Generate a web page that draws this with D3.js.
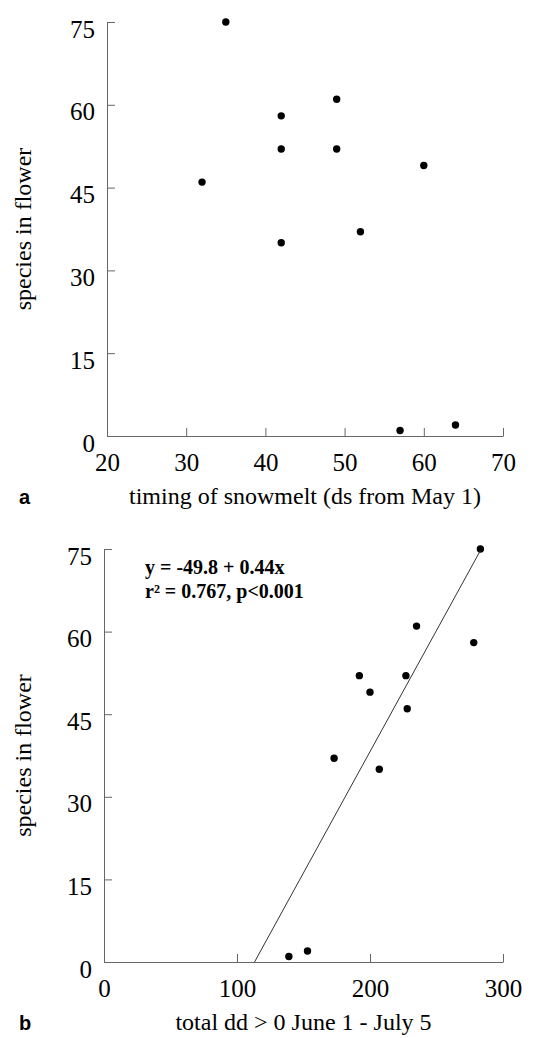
<!DOCTYPE html>
<html>
<head>
<meta charset="utf-8">
<script src="https://cdnjs.cloudflare.com/ajax/libs/d3/7.8.5/d3.min.js"></script>
<style>
  body { margin: 0; background: #fff; }
  svg { display: block; }
  .tick text { font-family: "Liberation Serif", "Times New Roman", serif; font-size: 25px; fill: #000; }
  .domain, .tick line { stroke: #666; stroke-width: 1; }
</style>
</head>
<body>
<svg></svg>
<script>
// panel a: timing of snowmelt vs species in flower
var snowmeltDays = [35, 32, 42, 42, 49, 49, 60, 42, 52, 57, 64];
var speciesA     = [75, 46, 58, 52, 61, 52, 49, 35, 37, 1, 2];

// panel b: degree days vs species in flower
var degreeDays = [283, 235, 278, 192, 200, 227, 228, 173, 207, 139, 153];
var speciesB   = [75, 61, 58, 52, 49, 52, 46, 37, 35, 1, 2];

var xTicksA = [20, 30, 40, 50, 60, 70];
var xTicksB = [0, 100, 200, 300];
var yTicks  = [0, 15, 30, 45, 60, 75];

// fitted line for panel b
var fitIntercept = -49.8;
var fitSlope = 0.44;

var svgWidth = 545;
var svgHeight = 1038;
var svg = d3.select("svg")
            .attr("width", svgWidth)
            .attr("height", svgHeight);

var serif = "'Liberation Serif', 'Times New Roman', serif";
var sans = "'Liberation Sans', Arial, sans-serif";

//draws one panel, returns the scales
function drawPanel(opt) {
  var x = d3.scaleLinear().domain(opt.xDomain).range([opt.left, opt.right]);
  var y = d3.scaleLinear().domain([0, 75]).range([opt.bottom, opt.top]);

  var xAxis = d3.axisBottom(x).tickValues(opt.xTicks).tickSizeInner(-8).tickSizeOuter(0);
  var gx = svg.append("g")
              .attr("transform", "translate(0," + opt.bottom + ")")
              .call(xAxis);
  gx.selectAll(".tick text").attr("y", 35).attr("dy", 0);

  var yAxis = d3.axisLeft(y).tickValues(yTicks).tickSizeInner(-8).tickSizeOuter(0).tickPadding(12);
  var gy = svg.append("g")
              .attr("transform", "translate(" + opt.left + ",0)")
              .call(yAxis);
  gy.selectAll(".tick text").attr("dy", 15);

  svg.append("g")
     .selectAll("circle")
     .data(opt.xs)
     .enter()
     .append("circle")
     .attr("cx", function(d){ return x(d); })
     .attr("cy", function(d, i){ return y(opt.ys[i]); })
     .attr("r", 3.7)
     .style("fill", "#000");

  //x axis title
  svg.append("text")
     .attr("x", (opt.left + opt.right) / 2)
     .attr("y", opt.bottom + 68)
     .attr("text-anchor", "middle")
     .style("font-family", serif)
     .style("font-size", "24px")
     .style("fill", "#000")
     .text(opt.xTitle);

  //y axis title
  svg.append("text")
     .attr("transform", "translate(31," + (opt.top + opt.bottom) / 2 + ") rotate(-90)")
     .attr("text-anchor", "middle")
     .style("font-family", serif)
     .style("font-size", "24px")
     .style("fill", "#000")
     .text("species in flower");

  //panel letter
  svg.append("text")
     .attr("x", 19)
     .attr("y", opt.bottom + 68)
     .style("font-family", sans)
     .style("font-weight", "bold")
     .style("font-size", "20px")
     .style("fill", "#000")
     .text(opt.letter);

  return { x: x, y: y };
}

drawPanel({
  xDomain: [20, 70], xTicks: xTicksA,
  left: 107, right: 503, top: 22, bottom: 436,
  xs: snowmeltDays, ys: speciesA,
  xTitle: "timing of snowmelt (ds from May 1)", letter: "a"
});

var b = drawPanel({
  xDomain: [0, 300], xTicks: xTicksB,
  left: 104, right: 503, top: 549, bottom: 962,
  xs: degreeDays, ys: speciesB,
  xTitle: "total dd > 0 June 1 - July 5", letter: "b"
});

//regression line from the x-intercept to the last point
var fitX = [-fitIntercept / fitSlope, d3.max(degreeDays)];
svg.append("path")
   .datum(fitX)
   .attr("d", d3.line()
     .x(function(d){ return b.x(d); })
     .y(function(d){ return b.y(fitIntercept + fitSlope * d); }))
   .style("fill", "none")
   .style("stroke", "#333")
   .style("stroke-width", 1);

//equation text
var eq = svg.append("text")
            .style("font-family", serif)
            .style("font-weight", "bold")
            .style("font-size", "20px")
            .style("fill", "#000");
eq.append("tspan").attr("x", 145).attr("y", 574).text("y = -49.8 + 0.44x");
eq.append("tspan").attr("x", 145).attr("y", 598).text("r\u00B2 = 0.767, p<0.001");
</script>
</body>
</html>
